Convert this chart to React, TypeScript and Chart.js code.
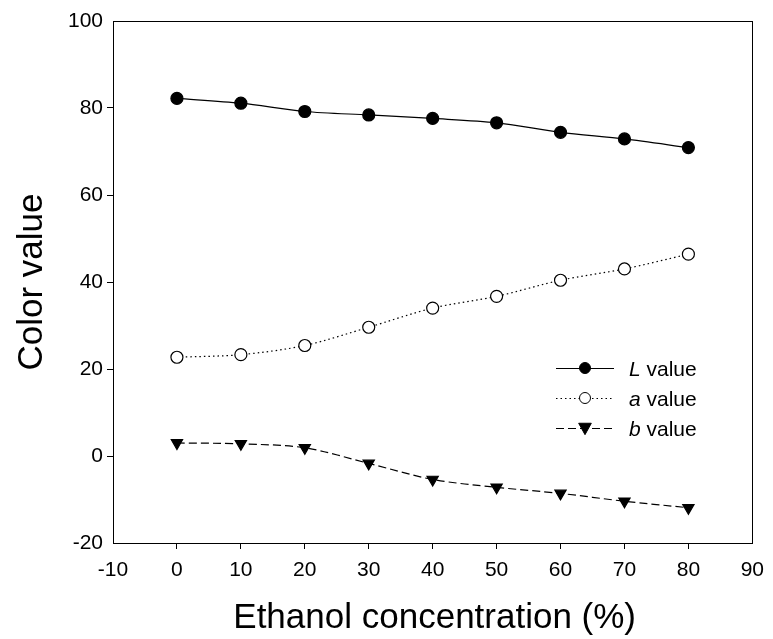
import React, { useEffect, useRef } from "react";
import { Chart, registerables } from "chart.js";

Chart.register(...registerables);

// Ethanol concentration (%)
const concentrations = [0, 10, 20, 30, 40, 50, 60, 70, 80];
const lValues = [82.2, 81.1, 79.2, 78.4, 77.6, 76.6, 74.4, 72.9, 70.9];
const aValues = [22.7, 23.3, 25.4, 29.6, 34.0, 36.7, 40.4, 43.0, 46.4];
const bValues = [3.0, 2.8, 1.9, -1.7, -5.4, -7.2, -8.6, -10.4, -11.9];

const seriesLetters = ["L", "a", "b"];
const xTitle = "Ethanol concentration (%)";
const yTitle = "Color value";

const FONT = "Arial, 'Liberation Sans', sans-serif";

function toPoints(ys: number[]) {
  return concentrations.map((x, i) => ({ x, y: ys[i] }));
}

function drawMarker(ctx: CanvasRenderingContext2D, style: string, x: number, y: number, r: number) {
  ctx.save();
  ctx.setLineDash([]);
  ctx.lineWidth = 1;
  ctx.strokeStyle = "#000";
  ctx.beginPath();
  if (style === "circle") {
    ctx.arc(x, y, r, 0, Math.PI * 2);
  } else {
    const h = r * 1.15;
    ctx.moveTo(x - h, y - h * 0.75);
    ctx.lineTo(x + h, y - h * 0.75);
    ctx.lineTo(x, y + h * 1.05);
    ctx.closePath();
  }
  ctx.fill();
  ctx.stroke();
  ctx.restore();
}

const framePlugin = {
  id: "frameAndLegend",
  afterDraw(chart: any) {
    const { ctx, chartArea } = chart;
    const { left, top, right, bottom } = chartArea;
    ctx.save();
    ctx.strokeStyle = "#000";
    ctx.lineWidth = 1;
    ctx.setLineDash([]);
    ctx.strokeRect(Math.round(left) + 0.5, Math.round(top) + 0.5, Math.round(right - left), Math.round(bottom - top));

    // axis titles
    ctx.fillStyle = "#000";
    ctx.font = `35px ${FONT}`;
    ctx.textAlign = "center";
    ctx.textBaseline = "alphabetic";
    ctx.fillText(xTitle, (left + right) / 2 + 2, 628);
    ctx.save();
    ctx.translate(42, (top + bottom) / 2);
    ctx.rotate(-Math.PI / 2);
    ctx.fillText(yTitle, 0, 0);
    ctx.restore();

    // legend
    const rows = [368, 398, 428];
    chart.data.datasets.forEach((ds: any, i: number) => {
      const y = rows[i];
      ctx.save();
      ctx.strokeStyle = "#000";
      ctx.lineWidth = ds.borderWidth;
      ctx.setLineDash(ds.borderDash || []);
      ctx.beginPath();
      ctx.moveTo(556, y + 0.5);
      ctx.lineTo(614, y + 0.5);
      ctx.stroke();
      ctx.restore();
      ctx.fillStyle = ds.pointBackgroundColor;
      drawMarker(ctx, ds.pointStyle, 585, y, 5.5);
      ctx.fillStyle = "#000";
      ctx.textAlign = "left";
      ctx.textBaseline = "alphabetic";
      ctx.font = `italic 21px ${FONT}`;
      const letter = seriesLetters[i];
      ctx.fillText(letter, 629, y + 8);
      const w = ctx.measureText(letter).width;
      ctx.font = `21px ${FONT}`;
      ctx.fillText(" value", 629 + w, y + 8);
    });
    ctx.restore();
  },
};

export default function App() {
  const canvasRef = useRef<HTMLCanvasElement | null>(null);

  useEffect(() => {
    document.body.style.margin = "0";
    const canvas = canvasRef.current;
    if (!canvas) return;

    const edgeTick = (min: number, max: number) => (c: any) => {
      const v = c.tick ? c.tick.value : undefined;
      return v === min || v === max ? "rgba(0,0,0,0)" : "#000";
    };

    const chart = new Chart(canvas, {
      type: "line",
      data: {
        datasets: [
          {
            label: "L value",
            data: toPoints(lValues),
            borderColor: "#000",
            borderWidth: 1.2,
            pointStyle: "circle",
            pointRadius: 6,
            pointBackgroundColor: "#000",
            pointBorderColor: "#000",
            tension: 0.3,
          },
          {
            label: "a value",
            data: toPoints(aValues),
            borderColor: "#000",
            borderWidth: 1.2,
            borderDash: [1.5, 3],
            pointStyle: "circle",
            pointRadius: 6,
            pointBackgroundColor: "#fff",
            pointBorderColor: "#000",
            tension: 0.3,
          },
          {
            label: "b value",
            data: toPoints(bValues),
            borderColor: "#000",
            borderWidth: 1.2,
            borderDash: [8, 4],
            pointStyle: "triangle",
            rotation: 180,
            pointRadius: 6.5,
            pointBackgroundColor: "#000",
            pointBorderColor: "#000",
            tension: 0.3,
          },
        ] as any,
      },
      options: {
        animation: false,
        responsive: false,
        maintainAspectRatio: false,
        layout: { padding: { left: 0, top: 21, right: 19, bottom: 0 } },
        plugins: {
          legend: { display: false },
          tooltip: { enabled: false },
        },
        scales: {
          x: {
            type: "linear",
            min: -10,
            max: 90,
            afterFit(scale: any) {
              scale.height = 96;
            },
            ticks: {
              stepSize: 10,
              color: "#000",
              font: { family: FONT, size: 21 },
              padding: 9,
              maxRotation: 0,
            },
            grid: {
              drawOnChartArea: false,
              drawTicks: true,
              tickLength: 6,
              tickColor: edgeTick(-10, 90),
              color: "#000",
            },
            border: { display: true, color: "#000", width: 1 },
          },
          y: {
            type: "linear",
            min: -20,
            max: 100,
            afterFit(scale: any) {
              scale.width = 113;
            },
            ticks: {
              stepSize: 20,
              color: "#000",
              font: { family: FONT, size: 21 },
              padding: 4,
            },
            grid: {
              drawOnChartArea: false,
              drawTicks: true,
              tickLength: 6,
              tickColor: edgeTick(-20, 100),
              color: "#000",
            },
            border: { display: true, color: "#000", width: 1 },
          },
        },
      } as any,
      plugins: [framePlugin],
    });

    return () => chart.destroy();
  }, []);

  return (
    <div style={{ position: "relative", width: 773, height: 639, background: "#fff" }}>
      <canvas ref={canvasRef} width={773} height={639} style={{ display: "block" }} />
    </div>
  );
}
